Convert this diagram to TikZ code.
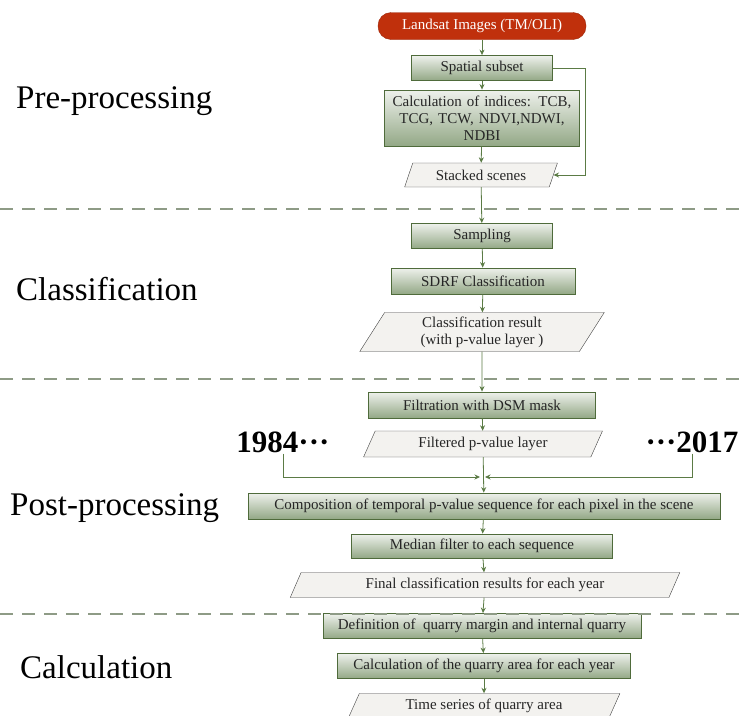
\documentclass[tikz,border=0pt]{standalone}
\usepackage{fontspec}
\setmainfont{Liberation Serif}
\usepackage{tikz}
\usetikzlibrary{shapes,arrows,arrows.meta}

\definecolor{boxline}{HTML}{4F6B3B}
\definecolor{boxtop}{HTML}{EEF1EC}
\definecolor{boxbot}{HTML}{93A886}
\definecolor{paraline}{HTML}{404040}
\definecolor{parafill}{HTML}{F3F2EF}
\definecolor{flowgreen}{HTML}{5B7B45}
\definecolor{sepline}{HTML}{8E9B86}
\definecolor{startred}{HTML}{C0300C}

\begin{document}
\begin{tikzpicture}[x=1pt,y=-1pt]
		\useasboundingbox (0,0) rectangle (743,715);
		\begin{scope}
            [
                every node/.style={inner sep=0pt, align=center, text=black!85, font=\fontsize{15}{17}\selectfont},
				proc/.style = {draw=boxline, thick, top color=boxtop, bottom color=boxbot, minimum height=25pt},
				data/.style = {trapezium, trapezium left angle=63, trapezium right angle=117, trapezium stretches=true,
				               draw=paraline, fill=parafill, minimum height=25pt},
				start/.style = {draw=startred!80!black, fill=startred, text=white, rounded corners=13pt,
				                minimum width=208pt, minimum height=27pt},
				phase/.style = {anchor=west, text=black, font=\fontsize{33}{35}\selectfont},
				year/.style = {inner sep=1pt, text=black, font=\fontsize{31}{33}\selectfont\bfseries}
            ]
            
			\node(land)[start] at (482,26) {Landsat Images (TM/OLI)};
			\node(sub)[proc, minimum width=141pt] at (482,68) {Spatial subset};
			\node(ind)[proc, minimum width=195pt, minimum height=56pt, text width=190pt] at (482,118)
				{Calculation of indices: TCB,\\ TCG, TCW, NDVI,NDWI,\\ NDBI};
			\node(stack)[data, minimum width=153pt, minimum height=24pt] at (481,175) {Stacked scenes};

			\node(samp)[proc, minimum width=141pt] at (482,236) {Sampling};
			\node(sdrf)[proc, minimum width=184pt, minimum height=26pt] at (483,281) {SDRF Classification};
			\node(cres)[data, minimum width=245pt, minimum height=39pt] at (482,332)
				{Classification result\\ (with p-value layer )};

			\node(filt)[proc, minimum width=227pt, minimum height=26pt] at (482,405) {Filtration with DSM mask};
			\node(fpv)[data, minimum width=239pt, minimum height=26pt] at (483,444) {Filtered p-value layer};
			\node(y1)[year] at (283,442) {1984···};
			\node(y2)[year] at (692,442) {···2017};
			\node(comp)[proc, minimum width=472pt, minimum height=26pt] at (484,506)
				{Composition of temporal p-value sequence for each pixel in the scene};
			\node(med)[proc, minimum width=261pt, minimum height=24pt] at (482,546) {Median filter to each sequence};
			\node(final)[data, minimum width=390pt] at (485,585) {Final classification results for each year};

			\node(def)[proc, minimum width=318pt] at (482,626) {Definition of \ quarry margin and internal quarry};
			\node(area)[proc, minimum width=293pt] at (484,666) {Calculation of the quarry area for each year};
			\node(ts)[data, minimum width=272pt] at (484,706) {Time series of quarry area};

			% phase titles
			\node(pre)[phase] at (16,101) {Pre-processing};
			\node(cls)[phase] at (16,289) {Classification};
			\node(post)[phase] at (10,508) {Post-processing};
			\node(calc)[phase] at (20,667) {Calculation};

			\coordinate (fb) at (585,68);
			\coordinate (jl) at (480,477);
			\coordinate (jr) at (485,477);
		\end{scope}
		\begin{scope}
            [>={Stealth[length=5.5pt,width=5pt]},
                every edge/.style={draw=flowgreen, thick, ->},
                sep/.style={draw=sepline, line width=1.2pt, dash pattern=on 13pt off 9pt}
            ]
            \draw[sep] (0,209) -- (743,209);
            \draw[sep] (0,379) -- (743,379);
            \draw[sep] (0,614) -- (743,614);

            \path 
            (land) edge (sub)
			(sub) edge (ind)
			(ind) edge (stack)
			(stack) edge (samp)
			(samp) edge (sdrf)
			(sdrf) edge (cres)
			(cres) edge (filt)
			(filt) edge (fpv)
			(fpv) edge (comp)
			(comp) edge (med)
			(med) edge (final)
			(final) edge (def)
			(def) edge (area)
			(area) edge (ts);
			\draw[draw=flowgreen, thick, ->] (sub.east) -- (fb) |- (stack.east);
			\draw[draw=flowgreen, thick, ->] (y1.south) |- (jl);
			\draw[draw=flowgreen, thick, ->] (y2.south) |- (jr);
		\end{scope}
    \end{tikzpicture}
\end{document}
